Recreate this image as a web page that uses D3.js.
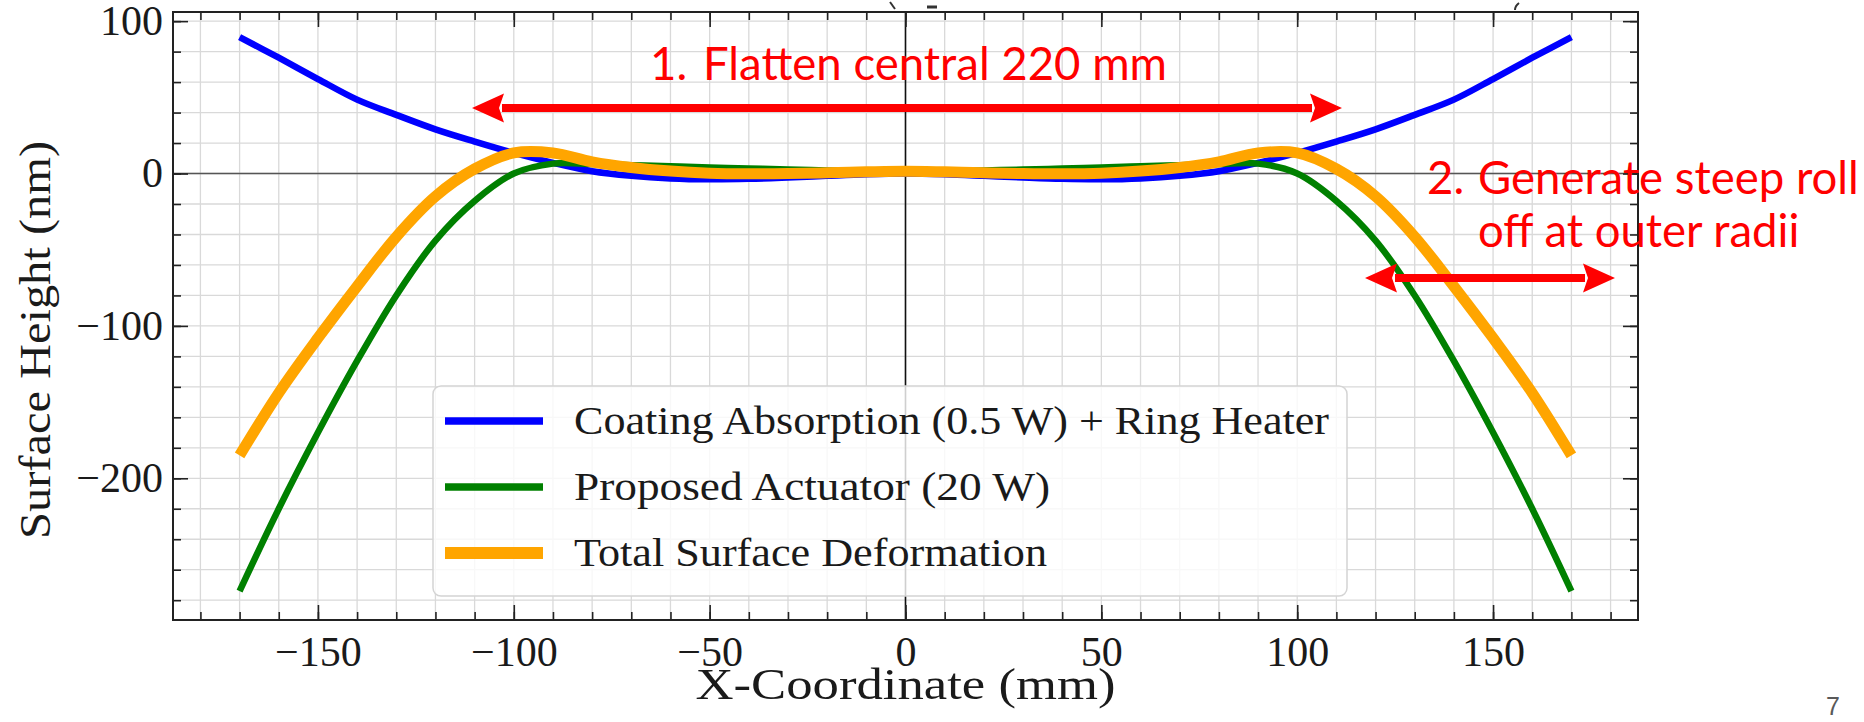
<!DOCTYPE html>
<html>
<head>
<meta charset="utf-8">
<script src="https://cdn.jsdelivr.net/npm/d3@7"></script>
<style>
  html, body { margin: 0; padding: 0; background: #fff; }
  svg { display: block; }
  .tick text { font-family: "Liberation Serif", "DejaVu Serif", serif; }
</style>
</head>
<body>
<svg id="chart" width="1864" height="722"></svg>
<script>
// X positions across the optic (mm)
const xPositions = [-170,-160,-150,-140,-130,-120,-110,-100,-90,-80,-70,-60,-50,-40,-30,-20,-10,0,
                    10,20,30,40,50,60,70,80,90,100,110,120,130,140,150,160,170];
// Surface height (nm) for each contribution
const coatingRingHeater = [89.5,76,62,48.5,38.5,29,21,13.5,7,1.5,-1.5,-3.2,-3.8,-3.5,-2.6,-1.5,-0.5,0,
                           -0.5,-1.5,-2.6,-3.5,-3.8,-3.2,-1.5,1.5,7,13.5,21,29,38.5,48.5,62,76,89.5];
const proposedActuator  = [-274,-220,-170,-123,-80,-44,-18,0,6.5,6.2,5.5,4.8,4.0,3.3,2.6,2.0,1.6,1.5,
                           1.6,2.0,2.6,3.3,4.0,4.8,5.5,6.2,6.5,0,-18,-44,-80,-123,-170,-220,-274];
const totalDeformation  = [-185,-144,-108,-74,-41.5,-15,3,13.5,13.5,7.7,4,1.6,0.2,-0.2,0,0.5,1.1,1.5,
                           1.1,0.5,0,-0.2,0.2,1.6,4,7.7,13.5,13.5,3,-15,-41.5,-74,-108,-144,-185];

const seriesNames  = ["Coating Absorption (0.5 W) + Ring Heater", "Proposed Actuator (20 W)", "Total Surface Deformation"];
const seriesColors = ["#0000ff", "#008000", "#ffa500"];
const seriesWidths = [6.5, 6.5, 11];
const legendTextWidths = [755, 476, 473];

const xMajorTicks = [-150,-100,-50,0,50,100,150];
const yMajorTicks = [-200,-100,0,100];

const W = 1864, H = 722;
const plot = { left: 173, right: 1638, top: 12, bottom: 620 };
const serif = "Liberation Serif, DejaVu Serif, serif";
const ink = "#1a1a1a";
const svg = d3.select("#chart");
svg.append("rect").attr("width", W).attr("height", H).attr("fill", "#fff");

const x = d3.scaleLinear().domain([-187, 187]).range([plot.left, plot.right]);
const y = d3.scaleLinear().domain([-293, 106]).range([plot.bottom, plot.top]);

const xMinor = d3.range(-180, 181, 10);
const yMinor = d3.range(-280, 101, 20);

svg.append("defs").append("clipPath").attr("id", "plotClip")
  .append("rect").attr("x", plot.left).attr("y", plot.top)
  .attr("width", plot.right - plot.left).attr("height", plot.bottom - plot.top);

// Grid (major + minor)
const grid = svg.append("g").attr("clip-path", "url(#plotClip)");
grid.selectAll("line.gx").data(xMinor).join("line")
  .attr("x1", d => x(d)).attr("x2", d => x(d))
  .attr("y1", plot.top).attr("y2", plot.bottom)
  .attr("stroke", "#d9d9d9").attr("stroke-width", 1.3);
grid.selectAll("line.gy").data(yMinor).join("line")
  .attr("y1", d => y(d)).attr("y2", d => y(d))
  .attr("x1", plot.left).attr("x2", plot.right)
  .attr("stroke", "#d9d9d9").attr("stroke-width", 1.3);

// Reference lines through the origin
grid.append("line").attr("x1", plot.left).attr("x2", plot.right)
  .attr("y1", y(0)).attr("y2", y(0)).attr("stroke", "#555").attr("stroke-width", 1.6);
grid.append("line").attr("x1", x(0)).attr("x2", x(0))
  .attr("y1", plot.top).attr("y2", plot.bottom).attr("stroke", "#111").attr("stroke-width", 1.6);

// Curves
const seriesValues = [coatingRingHeater, proposedActuator, totalDeformation];
const line = d3.line().x(d => x(d[0])).y(d => y(d[1])).curve(d3.curveCatmullRom.alpha(0.5));
const curves = svg.append("g").attr("clip-path", "url(#plotClip)");
seriesValues.forEach((vals, i) => {
  curves.append("path")
    .datum(xPositions.map((xv, j) => [xv, vals[j]]))
    .attr("d", line)
    .attr("fill", "none")
    .attr("stroke", seriesColors[i])
    .attr("stroke-width", seriesWidths[i])
    .attr("stroke-linejoin", "round");
});

// Legend
const legend = svg.append("g");
const lg = { x: 433, y: 386, w: 914, h: 210 };
legend.append("rect").attr("x", lg.x).attr("y", lg.y).attr("width", lg.w).attr("height", lg.h)
  .attr("rx", 8).attr("fill", "rgba(255,255,255,0.8)").attr("stroke", "#d4d4d4").attr("stroke-width", 1.5);
const rowY = [421, 487, 553];
seriesNames.forEach((name, i) => {
  legend.append("line").attr("x1", 445).attr("x2", 543).attr("y1", rowY[i]).attr("y2", rowY[i])
    .attr("stroke", seriesColors[i]).attr("stroke-width", seriesWidths[i] + 1);
  legend.append("text").attr("x", 574).attr("y", rowY[i] + 13)
    .attr("font-family", serif).attr("font-size", 40)
    .attr("textLength", legendTextWidths[i]).attr("lengthAdjust", "spacingAndGlyphs")
    .attr("fill", ink).text(name);
});

// Axes with inward ticks on all four sides
const fmt = d3.format("d");
function styleAxis(g) {
  g.select(".domain").remove();
  g.selectAll(".tick line").attr("stroke", "#222").attr("stroke-width", 1.6);
}
svg.append("g").attr("transform", `translate(0,${plot.bottom})`)
  .call(d3.axisBottom(x).tickValues(xMinor).tickSize(-8).tickFormat("")).call(styleAxis);
svg.append("g").attr("transform", `translate(0,${plot.bottom})`)
  .call(d3.axisBottom(x).tickValues(xMajorTicks).tickSize(-15).tickPadding(16).tickFormat(fmt))
  .call(styleAxis)
  .call(g => g.selectAll(".tick text").attr("font-size", 42).attr("fill", ink));
svg.append("g").attr("transform", `translate(0,${plot.top})`)
  .call(d3.axisTop(x).tickValues(xMinor).tickSize(-8).tickFormat("")).call(styleAxis);
svg.append("g").attr("transform", `translate(0,${plot.top})`)
  .call(d3.axisTop(x).tickValues(xMajorTicks).tickSize(-15).tickFormat("")).call(styleAxis);
svg.append("g").attr("transform", `translate(${plot.left},0)`)
  .call(d3.axisLeft(y).tickValues(yMinor).tickSize(-8).tickFormat("")).call(styleAxis);
svg.append("g").attr("transform", `translate(${plot.left},0)`)
  .call(d3.axisLeft(y).tickValues(yMajorTicks).tickSize(-15).tickPadding(10).tickFormat(fmt))
  .call(styleAxis)
  .call(g => g.selectAll(".tick text").attr("font-size", 42).attr("fill", ink));
svg.append("g").attr("transform", `translate(${plot.right},0)`)
  .call(d3.axisRight(y).tickValues(yMinor).tickSize(-8).tickFormat("")).call(styleAxis);
svg.append("g").attr("transform", `translate(${plot.right},0)`)
  .call(d3.axisRight(y).tickValues(yMajorTicks).tickSize(-15).tickFormat("")).call(styleAxis);

// Frame
svg.append("rect").attr("x", plot.left).attr("y", plot.top)
  .attr("width", plot.right - plot.left).attr("height", plot.bottom - plot.top)
  .attr("fill", "none").attr("stroke", "#222").attr("stroke-width", 2);

// Axis titles
svg.append("text").attr("x", x(0)).attr("y", 699).attr("text-anchor", "middle")
  .attr("font-family", serif).attr("font-size", 44)
  .attr("textLength", 420).attr("lengthAdjust", "spacingAndGlyphs")
  .attr("fill", ink).text("X-Coordinate (mm)");
svg.append("text").attr("transform", `translate(50,340) rotate(-90)`)
  .attr("text-anchor", "middle")
  .attr("font-family", serif).attr("font-size", 44)
  .attr("textLength", 398).attr("lengthAdjust", "spacingAndGlyphs")
  .attr("fill", ink).text("Surface Height (nm)");

// Clipped fragments of the heading above the chart
const frag = svg.append("g").attr("stroke", "#333").attr("stroke-width", 2).attr("fill", "none");
frag.append("path").attr("d", "M890,2 L895,9");
frag.append("path").attr("d", "M927,7 L937,7").attr("stroke-width", 3);
frag.append("path").attr("d", "M1519,3 Q1515,6 1515,10");

// Annotations
const red = "#ff0000";
function doubleArrow(x1, x2, yy) {
  const g = svg.append("g");
  const head = 32, half = 14.5, notch = 5;
  g.append("line").attr("x1", x1 + head - 2).attr("x2", x2 - head + 2).attr("y1", yy).attr("y2", yy)
    .attr("stroke", red).attr("stroke-width", 8);
  g.append("path").attr("fill", red)
    .attr("d", `M${x1},${yy} L${x1 + head},${yy - half} L${x1 + head - notch},${yy} L${x1 + head},${yy + half} Z`);
  g.append("path").attr("fill", red)
    .attr("d", `M${x2},${yy} L${x2 - head},${yy - half} L${x2 - head + notch},${yy} L${x2 - head},${yy + half} Z`);
}
doubleArrow(472, 1342, 108);
doubleArrow(1365, 1615, 278);

const ann = svg.append("g").attr("font-family", "Lato, 'Open Sans', sans-serif").attr("font-size", 45.5).attr("fill", red);
ann.append("text").attr("x", 650).attr("y", 80).text("1.");
ann.append("text").attr("x", 703).attr("y", 80).text("Flatten central 220 mm");
ann.append("text").attr("x", 1427).attr("y", 194).text("2.");
ann.append("text").attr("x", 1478).attr("y", 194).text("Generate steep roll");
ann.append("text").attr("x", 1478).attr("y", 247).text("off at outer radii");

// Slide number
svg.append("text").attr("x", 1840).attr("y", 715).attr("text-anchor", "end")
  .attr("font-family", "Arial, 'Liberation Sans', sans-serif").attr("font-size", 25)
  .attr("fill", "#595959").text("7");
</script>
</body>
</html>
